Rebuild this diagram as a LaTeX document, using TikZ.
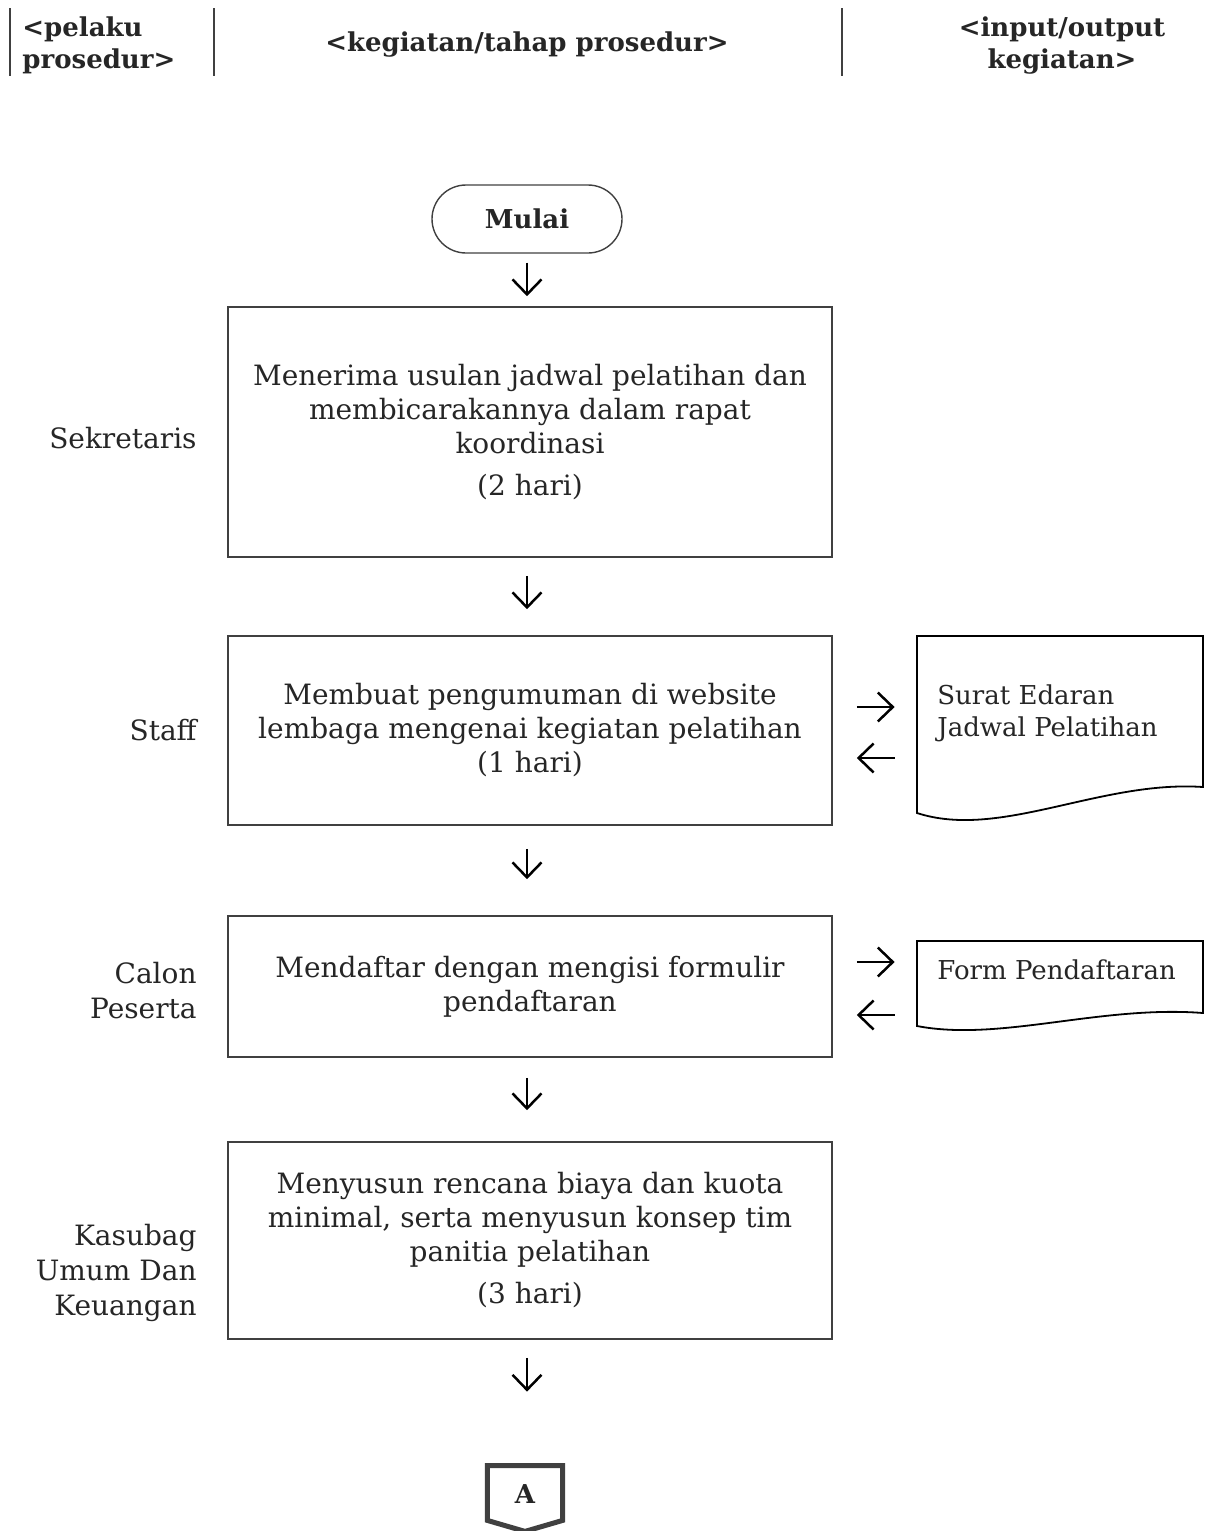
\documentclass[tikz,border=0pt]{standalone}
\usepackage{fontspec}
\setmainfont{DejaVu Serif}
\usetikzlibrary{arrows.meta,calc}
\definecolor{txtc}{HTML}{262626}
\definecolor{linec}{HTML}{404040}
\begin{document}
\begin{tikzpicture}[x=0.5pt,y=-0.5pt,
  every node/.style={text=txtc},
  box/.style={draw=linec, line width=0.8pt, minimum width=302pt, inner sep=0pt, align=center, font=\fontsize{14}{17}\selectfont},
  lbl/.style={anchor=base east, align=right, font=\fontsize{14}{17.5}\selectfont, inner sep=0pt},
  hdr/.style={font=\bfseries\fontsize{13}{16}\selectfont, inner sep=0pt},
  doctxt/.style={anchor=base west, align=left, font=\fontsize{13}{16}\selectfont, inner sep=0pt},
  docshape/.style={draw=black, line width=0.9pt},
  arr/.style={draw=black, line width=1.25pt, -{Straight Barb[length=7.5pt,width=14.5pt]}},
  hline/.style={draw=linec, line width=1pt},
]
\useasboundingbox (0,0) rectangle (1219,1531);

% header
\draw[hline] (10,8) -- (10,76);
\draw[hline] (214,8) -- (214,76);
\draw[hline] (842,8) -- (842,76);
\node[hdr, anchor=base west, align=left] (h1) at (22,68) {\textless pelaku\\prosedur\textgreater};
\node[hdr, anchor=base] (h2) at (527,51) {\textless kegiatan/tahap prosedur\textgreater};
\node[hdr, anchor=base, align=center] (h3) at (1062,68) {\textless input/output\\kegiatan\textgreater};

% start
\node[draw=linec, line width=0.7pt, rounded corners=17pt, minimum width=95pt, minimum height=34pt, font=\bfseries\fontsize{13}{16}\selectfont] (start) at (527,219) {Mulai};

% boxes
\node[box, minimum height=125pt] (b1) at (530,432) {Menerima usulan jadwal pelatihan dan\\membicarakannya dalam rapat\\koordinasi\\[4pt](2 hari)};
\node[box, minimum height=94.5pt] (b2) at (530,730.5) {Membuat pengumuman di website\\lembaga mengenai kegiatan pelatihan\\(1 hari)};
\node[box, minimum height=70.5pt] (b3) at (530,986.5) {Mendaftar dengan mengisi formulir\\pendaftaran};
\node[box, minimum height=98.5pt] (b4) at (530,1240.5) {Menyusun rencana biaya dan kuota\\minimal, serta menyusun konsep tim\\panitia pelatihan\\[4pt](3 hari)};

% labels
\node[lbl] (l1) at (197,448) {Sekretaris};
\node[lbl] (l2) at (197,740) {Staff};
\node[lbl] (l3) at (197,1018) {Calon\\Peserta};
\node[lbl] (l4) at (197,1315) {Kasubag\\Umum Dan\\Keuangan};

% documents
\node[inner sep=0pt, minimum width=143pt, minimum height=88.5pt] (d1) at (1060,724.5) {};
\draw[docshape] (917,636) -- (1203,636) -- (1203,787) .. controls (1100,780) and (1000,840) .. (917,813) -- cycle;
\node[doctxt] (d1t) at (937,736) {Surat Edaran\\Jadwal Pelatihan};

\node[inner sep=0pt, minimum width=143pt, minimum height=42.5pt] (d2) at (1060,983.5) {};
\draw[docshape] (917,941) -- (1203,941) -- (1203,1013) .. controls (1100,1005) and (1000,1042) .. (917,1026) -- cycle;
\node[doctxt] (d2t) at (937,979) {Form Pendaftaran};

% connector A
\node[inner sep=0pt, minimum width=37.25pt, minimum height=28pt, font=\bfseries\fontsize{13}{15}\selectfont] (conA) at (525,1494) {A};
\draw[draw=linec, line width=2.5pt, line join=miter] (conA.north west) -- (conA.north east) -- ([yshift=1pt]conA.south east) -- ([yshift=-4.5pt]conA.south) -- ([yshift=1pt]conA.south west) -- cycle;

% vertical arrows
\draw[arr, shorten <=4.5pt, shorten >=5pt] (start.south) -- (start.south |- b1.north);
\draw[arr, shorten <=9pt, shorten >=13pt] (b1.south -| start) -- (b2.north -| start);
\draw[arr, shorten <=11.5pt, shorten >=18pt] (b2.south -| start) -- (b3.north -| start);
\draw[arr, shorten <=10pt, shorten >=15.5pt] (b3.south -| start) -- (b4.north -| start);
\draw[arr, shorten <=9pt, shorten >=37pt] (b4.south -| start) -- (conA.north -| start);

% side arrows
\draw[arr, shorten <=12pt, shorten >=11pt] (b2.east |- 0,707) -- (d1.west |- 0,707);
\draw[arr, shorten <=11pt, shorten >=12pt] (d1.west |- 0,758) -- (b2.east |- 0,758);
\draw[arr, shorten <=12pt, shorten >=11pt] (b3.east |- 0,962) -- (d2.west |- 0,962);
\draw[arr, shorten <=11pt, shorten >=12pt] (d2.west |- 0,1015) -- (b3.east |- 0,1015);
\end{tikzpicture}
\end{document}
